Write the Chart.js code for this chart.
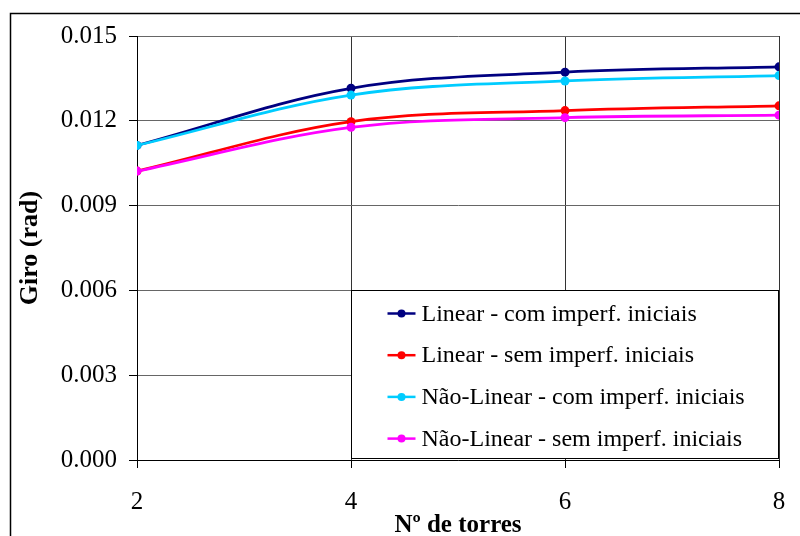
<!DOCTYPE html>
<html>
<head>
<meta charset="utf-8">
<script src="https://cdn.jsdelivr.net/npm/chart.js@4/dist/chart.umd.min.js"></script>
<style>
  html, body { margin: 0; padding: 0; background: #fff; }
  #wrap { width: 800px; height: 536px; position: relative; }
</style>
</head>
<body>
<div id="wrap"><canvas id="c" width="800" height="536"></canvas></div>
<script>
const torres = [2, 4, 6, 8];
const linearCom = [0.01113, 0.01315, 0.01372, 0.01391];
const linearSem = [0.01022, 0.01197, 0.01236, 0.01253];
const naoLinearCom = [0.01113, 0.01291, 0.01341, 0.01360];
const naoLinearSem = [0.01022, 0.01177, 0.01211, 0.01220];
const seriesNames = [
  'Linear - com imperf. iniciais',
  'Linear - sem imperf. iniciais',
  'Não-Linear - com imperf. iniciais',
  'Não-Linear - sem imperf. iniciais'
];
const yTicks = [0, 0.003, 0.006, 0.009, 0.012, 0.015];
const xTitle = 'Nº de torres';
const yTitle = 'Giro (rad)';

const colors = ['#000080', '#FF0000', '#00CCFF', '#FF00FF'];
const seriesValues = [linearCom, linearSem, naoLinearCom, naoLinearSem];
const FONT = "'Liberation Serif', 'Times New Roman', serif";

const datasets = seriesValues.map((vals, i) => ({
  label: seriesNames[i],
  data: torres.map((t, j) => ({ x: t, y: vals[j] })),
  borderColor: colors[i],
  backgroundColor: colors[i],
  borderWidth: 2.8,
  pointRadius: 4.5,
  pointHoverRadius: 4.5,
  pointBorderWidth: 0,
  tension: 0.35,
  order: 4 - i,
  fill: false
}));

const frame = {
  id: 'frame',
  beforeDraw(chart) {
    const ctx = chart.ctx;
    ctx.save();
    ctx.fillStyle = '#fff';
    ctx.fillRect(0, 0, chart.width, chart.height);
    ctx.strokeStyle = '#000';
    ctx.lineWidth = 1.5;
    ctx.strokeRect(10.5, 13.5, 820, 560);
    ctx.restore();
  }
};

const legendBox = {
  id: 'legendBox',
  afterDatasetsDraw(chart) {
    const ctx = chart.ctx;
    const xs = chart.scales.x, ys = chart.scales.y;
    const left = Math.round(xs.getPixelForValue(4)) + 0.5;
    const right = Math.round(xs.getPixelForValue(8)) - 0.5;
    const top = Math.round(ys.getPixelForValue(0.006)) + 0.5;
    const bottom = Math.round(ys.getPixelForValue(0)) - 1.5;
    ctx.save();
    ctx.fillStyle = '#fff';
    ctx.fillRect(left, top, right - left, bottom - top);
    ctx.strokeStyle = '#000';
    ctx.lineWidth = 1;
    ctx.strokeRect(left, top, right - left, bottom - top);
    ctx.font = '24px ' + FONT;
    ctx.textBaseline = 'middle';
    ctx.textAlign = 'left';
    chart.data.datasets.forEach((ds, i) => {
      const cy = top + 23 + i * 41.7;
      const sx = left + 36;
      ctx.strokeStyle = ds.borderColor;
      ctx.lineWidth = 2.5;
      ctx.beginPath();
      ctx.moveTo(sx, cy);
      ctx.lineTo(sx + 28, cy);
      ctx.stroke();
      ctx.fillStyle = ds.borderColor;
      ctx.beginPath();
      ctx.arc(sx + 14, cy, 4, 0, Math.PI * 2);
      ctx.fill();
      ctx.fillStyle = '#000';
      ctx.fillText(ds.label, sx + 34, cy + 1);
    });
    ctx.restore();
  }
};

new Chart(document.getElementById('c'), {
  type: 'line',
  data: { datasets },
  plugins: [frame, legendBox],
  options: {
    responsive: false,
    animation: false,
    events: [],
    layout: { padding: { left: 0, right: 21, top: 36, bottom: 0 } },
    plugins: { legend: { display: false }, tooltip: { enabled: false } },
    scales: {
      x: {
        type: 'linear',
        min: 2, max: 8,
        afterFit(scale) { scale.height = 76; scale.paddingLeft = 0; scale.paddingRight = 0; },
        afterBuildTicks(scale) { scale.ticks = torres.map(v => ({ value: v })); },
        ticks: { color: '#000', font: { family: FONT, size: 25 }, padding: 19, maxRotation: 0 },
        grid: { color: '#333', lineWidth: 1, tickLength: 8, tickColor: '#000' },
        border: { color: '#000', width: 1 },
        title: { display: true, text: xTitle, color: '#000',
          font: { family: FONT, size: 25, weight: 'bold', lineHeight: 1 }, padding: { top: 0, bottom: -2 } }
      },
      y: {
        min: 0, max: 0.015,
        afterFit(scale) { scale.width = 137; scale.paddingTop = 0; scale.paddingBottom = 0; },
        afterBuildTicks(scale) { scale.ticks = yTicks.map(v => ({ value: v })); },
        ticks: { color: '#000', font: { family: FONT, size: 25 }, padding: 12,
          callback: v => Number(v).toFixed(3) },
        grid: { color: '#666', lineWidth: 1, tickLength: 8, tickColor: '#000' },
        border: { color: '#000', width: 1 },
        title: { display: true, text: yTitle, color: '#000',
          font: { family: FONT, size: 26, weight: 'bold', lineHeight: 1.2 }, padding: { top: 15, bottom: 0 } }
      }
    }
  }
});
</script>
</body>
</html>
